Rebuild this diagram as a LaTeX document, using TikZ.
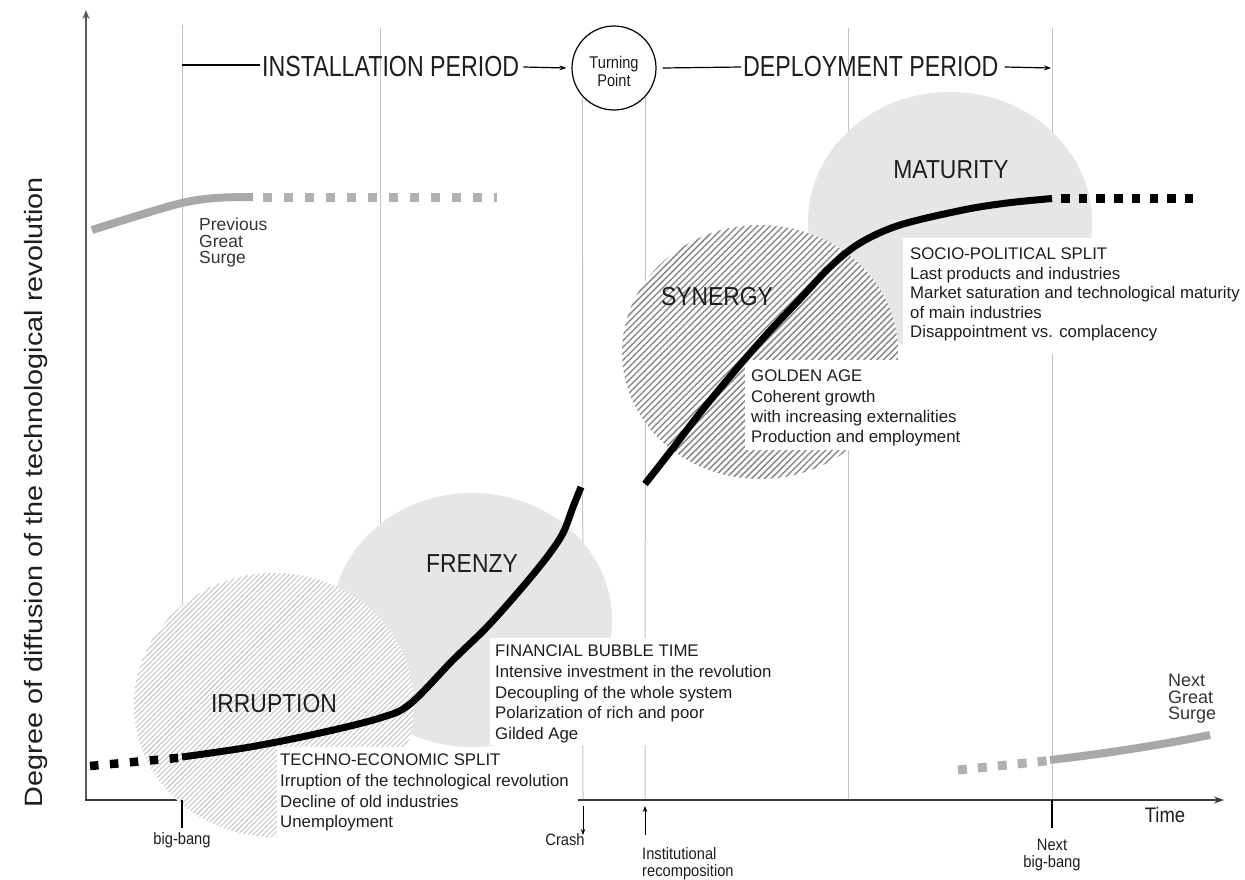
\documentclass[tikz,border=0pt]{standalone}
\usepackage{fontspec}
\usepackage{graphicx}
\setmainfont{Liberation Sans}
\newfontfamily\hdrfont[FakeStretch=0.8]{Liberation Sans}
\newfontfamily\lblfont[FakeStretch=0.88]{Liberation Sans}
\newfontfamily\nrwfont[FakeStretch=0.89]{Liberation Sans}
\newfontfamily\tpfont[FakeStretch=0.86]{Liberation Sans}
\usetikzlibrary{arrows.meta,patterns.meta}
\definecolor{txt}{HTML}{1E1E1E}
\definecolor{gridc}{HTML}{C4C4C4}
\definecolor{blob}{HTML}{E6E6E6}
\definecolor{hatchA}{HTML}{C2C2C2}
\definecolor{hatchB}{HTML}{8A8A8A}
\definecolor{surge}{HTML}{A8A8A8}
\definecolor{yaxis}{HTML}{5A5A5A}
\definecolor{xaxis}{HTML}{3A3A3A}
\begin{document}
\begin{tikzpicture}[x=1pt,y=-1pt,
  gridline/.style={draw=gridc, line width=1pt},
  hdr/.style={font=\hdrfont\fontsize{29}{29}\selectfont, text=txt, inner sep=0pt},
  phase/.style={font=\lblfont\fontsize{26}{26}\selectfont, text=txt, inner sep=0pt},
  desc/.style={font=\fontsize{16.8}{20.6}\selectfont, text=txt, inner sep=0pt, align=left, anchor=north west},
  small/.style={font=\nrwfont\fontsize{16.5}{17}\selectfont, text=txt, inner sep=0pt},
  surgelbl/.style={font=\fontsize{17.5}{16.2}\selectfont, text=txt!90, inner sep=0pt, align=left, anchor=north west},
  mask/.style={fill=white, draw=none},
  hline/.style={draw=black, line width=1.2pt},
  maincurve/.style={draw=black, line width=7pt},
  maindots/.style={draw=black, line width=8.5pt},
  surgecurve/.style={draw=surge, line width=8pt},
  tick/.style={draw=black, line width=1.3pt},
  smallarrow/.style={draw=black, line width=0.9pt, -{Stealth[length=6pt,width=4.5pt]}},
]
\useasboundingbox (0,0) rectangle (1245,879);
\fill[white] (0,0) rectangle (1245,879);

% turning point circle (needed for grid anchors)
\node[circle, draw=black, line width=1.2pt, minimum size=84pt, inner sep=0pt] (tp) at (614,68) {};

% grid lines
\draw[gridline] (182,25) -- (182,800);
\draw[gridline] (380,28) -- (380,800);
\draw[gridline] (tp.222) -- (583,800);
\draw[gridline] (tp.318) -- (645,800);
\draw[gridline] (848,28) -- (848,800);
\draw[gridline] (1052,28) -- (1052,800);

% axes
\coordinate (origin) at (86,800);
\coordinate (ytop) at (86,10);
\coordinate (xend) at (1224,800);
\draw[draw=yaxis, line width=2.8pt, -{Stealth[length=9pt,width=7pt]}] (86,801) -- (ytop);
\draw[draw=xaxis, line width=1.7pt, -{Stealth[length=10pt,width=7pt]}] (85,800) -- (xend);

% phase blobs
\path[fill=blob] (472,620) ellipse [x radius=140pt, y radius=127pt];
\path[preaction={fill=white}, pattern={Lines[angle=45,distance=3.6pt,line width=0.9pt]}, pattern color=hatchA] (274,705) ellipse [x radius=140pt, y radius=132pt];
\path[fill=blob] (950,222) ellipse [x radius=142pt, y radius=130pt];
\path[preaction={fill=white}, pattern={Lines[angle=45,distance=4.6pt,line width=1.5pt]}, pattern color=hatchB] (760,352) ellipse [x radius=138pt, y radius=127pt];

% white masks behind text blocks
\fill[mask] (277,747) rectangle (578,838);
\fill[mask] (490,638) rectangle (785,745);
\fill[mask] (745,360) rectangle (978,450);
\fill[mask] (903,238) rectangle (1245,354);

% ticks and event arrows
\draw[tick] (182,800) -- (182,828);
\draw[tick] (1052,800) -- (1052,828);
\draw[smallarrow] (583,806) -- (583,835);
\draw[smallarrow] (645,835) -- (645,806);

% previous great surge
\draw[surgecurve] plot[smooth, tension=0.6] coordinates {(92,230) (140,215) (182,203) (215,198) (253,197)};
\draw[draw=surge!90, line width=9pt, dash pattern=on 9pt off 12pt] (263,197) -- (497,197);

% next great surge
\draw[draw=surge!90, line width=9pt, dash pattern=on 9pt off 11pt] (958,770) -- (1050,760.5);
\draw[surgecurve] (1050,760) .. controls (1110,753) and (1160,745) .. (1210,735);

% main curve
\draw[maindots, dash pattern=on 8.5pt off 11.5pt] (90,766) -- (182,757.5);
\draw[maincurve] plot[smooth, tension=0.55] coordinates {(182,757) (250,747) (320,733) (380,718) (410,704) (453,660) (487,627) (520,590) (547,557) (563,533) (573,507) (581,487)};
\draw[maincurve] plot[smooth, tension=0.55] coordinates {(645,484) (670,452) (700,413) (733,373) (767,334) (800,299) (830,267) (860,243) (900,225) (963,210) (1007,203) (1052,198.5)};
\draw[maindots, dash pattern=on 8.5pt off 9.2pt] (1061,198.5) -- (1196,198.5);

% header
\node[hdr, anchor=west] (inst) at (262,67) {INSTALLATION PERIOD};
\node[hdr, anchor=west] (dep) at (743,67) {DEPLOYMENT PERIOD};
\coordinate (bbhdr) at (182,65);
\coordinate (nbbhdr) at (1051,68);
\draw[hline] (bbhdr) -- ([xshift=-2pt]inst.west |- bbhdr);
\draw[hline, -{Stealth[length=7pt,width=5pt]}] ([xshift=4pt]inst.east) -- ([xshift=-5pt]tp.west);
\draw[hline] ([xshift=6pt]tp.east) -- ([xshift=-2pt]dep.west);
\draw[hline, -{Stealth[length=7pt,width=5pt]}] ([xshift=6pt]dep.east) -- (nbbhdr);
\node[font=\tpfont\fontsize{17}{18.5}\selectfont, text=txt, align=center, inner sep=0pt] (tptext) at (614,71.5) {Turning\\Point};

% phase labels
\node[phase] (irr) at (274,704) {IRRUPTION};
\node[phase] (fre) at (472,564) {FRENZY};
\node[phase] (syn) at (717,297) {SYNERGY};
\node[phase] (mat) at (951,170) {MATURITY};

% description blocks
\node[desc] (tes) at (280,754) {TECHNO-ECONOMIC SPLIT\\Irruption of the technological revolution\\Decline of old industries\\Unemployment};
\node[desc] (fbt) at (495,645) {FINANCIAL BUBBLE TIME\\Intensive investment in the revolution\\Decoupling of the whole system\\Polarization of rich and poor\\Gilded Age};
\node[desc, font=\fontsize{16.8}{20.3}\selectfont] (gad) at (751,370) {GOLDEN AGE\\Coherent growth\\with increasing externalities\\Production and employment};
\node[desc, font=\fontsize{16.8}{19.4}\selectfont] (sps) at (910,248) {SOCIO-POLITICAL SPLIT\\Last products and industries\\Market saturation and technological maturity\\of main industries\\Disappointment vs. complacency};

% surge labels
\node[surgelbl] (prev) at (199,218) {Previous\\Great\\Surge};
\node[surgelbl, font=\fontsize{18}{16.6}\selectfont] (next) at (1168,674) {Next\\Great\\Surge};

% bottom labels
\node[small] (bb) at (182,840) {big-bang};
\node[small] (crash) at (565,840) {Crash};
\node[small, align=left, anchor=north west] (inst2) at (642,847) {Institutional\\recomposition};
\node[small, align=center, anchor=north] (nbb) at (1052,839) {Next\\big-bang};
\node[font=\lblfont\fontsize{21}{21}\selectfont, text=txt, inner sep=0pt] (time) at (1165,815) {Time};

% y axis label
\node[rotate=90, font=\fontsize{28.8}{30}\selectfont, text=txt, inner sep=0pt] (ylab) at (36,492) {\scalebox{1}[0.87]{Degree of diffusion of the technological revolution}};
\end{tikzpicture}
\end{document}
